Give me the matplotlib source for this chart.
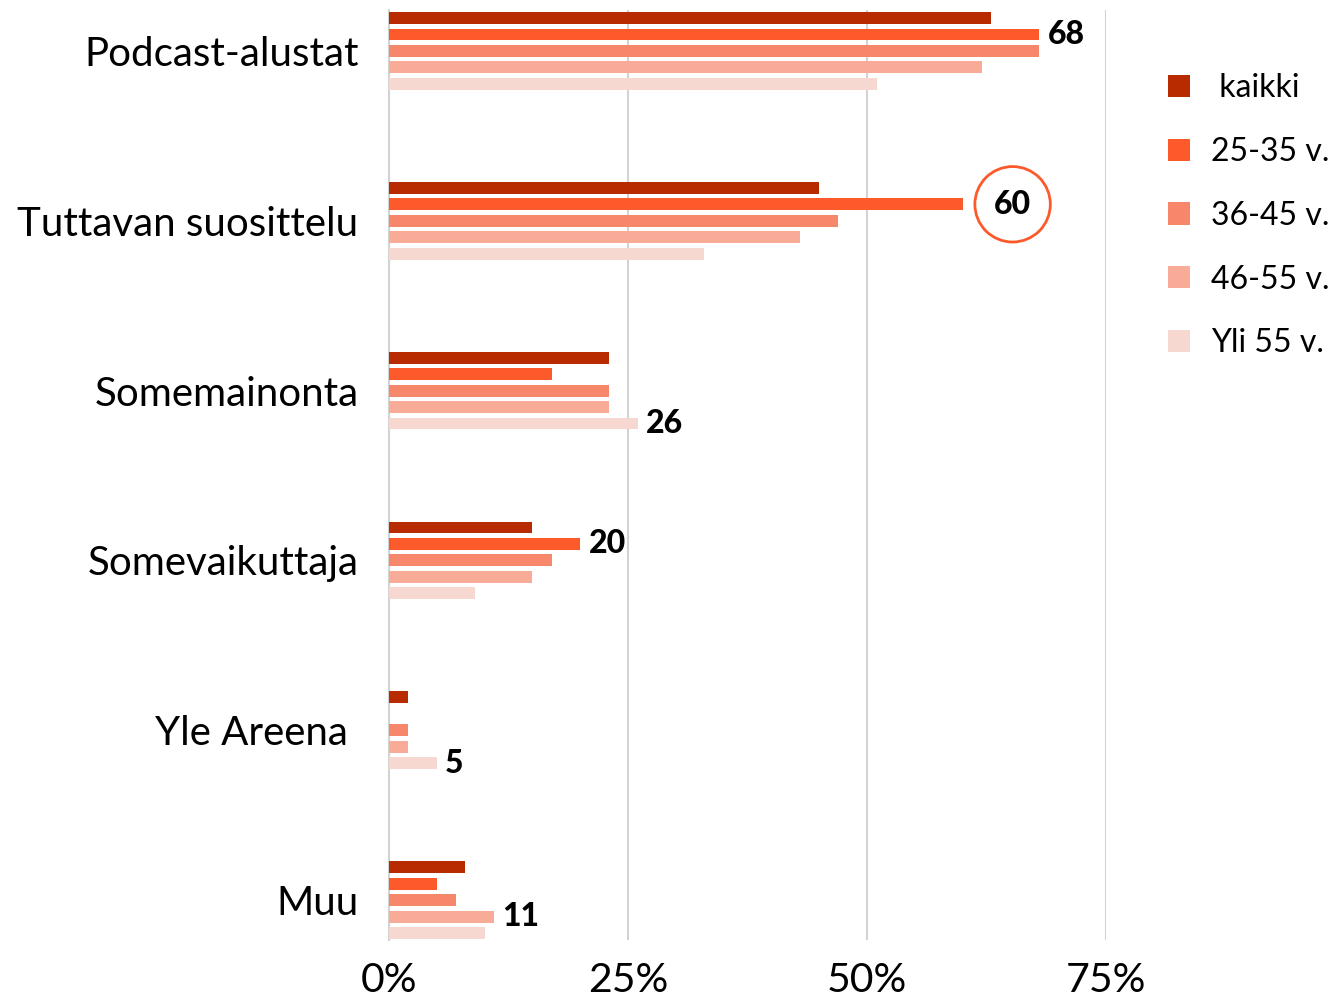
import matplotlib
matplotlib.use("Agg")
import matplotlib.pyplot as plt
from matplotlib.patches import Patch
import numpy as np

plt.rcParams['font.family'] = ['Lato', 'DejaVu Sans']

categories = ["Podcast-alustat", "Tuttavan suosittelu", "Somemainonta",
              "Somevaikuttaja", "Yle Areena ", "Muu"]
series_names = [" kaikki", "25-35 v.", "36-45 v.", "46-55 v.", "Yli 55 v."]
colors = ["#B82A00", "#FD5A2C", "#F6876A", "#F8AC98", "#F6D8D0"]

kaikki = [63, 45, 23, 15, 2, 8]
v25_35 = [68, 60, 17, 20, 0, 5]
v36_45 = [68, 47, 23, 17, 2, 7]
v46_55 = [62, 43, 23, 15, 2, 11]
yli55 = [51, 33, 26, 9, 5, 10]
series = [kaikki, v25_35, v36_45, v46_55, yli55]

# (category index, series index) for labelled bars
labels = [(0, 1), (2, 4), (3, 1), (4, 4), (5, 3)]
highlight = (1, 1)

xticks = [0, 25, 50, 75]
xticklabels = ["0%", "25%", "50%", "75%"]

fig = plt.figure(figsize=(13.3, 10), dpi=100)
ax = fig.add_axes([389/1330, 0.06, (1106-389)/1330, 0.93])

step = 0.097
height = 0.07
y = np.arange(len(categories))
for i, (vals, c) in enumerate(zip(series, colors)):
    ax.barh(y + (i - 2) * step, vals, height=height, color=c, label=series_names[i], zorder=3)

for (ci, si) in labels:
    val = series[si][ci]
    ax.annotate(str(val), (val, ci + (si - 2) * step), xytext=(6, 0),
                textcoords="offset points", va="center", ha="left",
                fontsize=23, fontweight="black", color="black")

ci, si = highlight
val = series[si][ci]
ax.annotate(str(val), (val, ci + (si - 2) * step), xytext=(36, 0),
            textcoords="offset points", va="center", ha="center",
            fontsize=23, fontweight="black", color="black",
            bbox=dict(boxstyle="circle,pad=0.6", fc="white", ec="#FD5A2C", lw=2))

ax.set_ylim(5.235, -0.241)
ax.set_xlim(0, 75)
ax.set_yticks(y)
ax.set_yticklabels(categories, fontsize=29)
ax.set_xticks(xticks)
ax.set_xticklabels(xticklabels, fontsize=29.5)
ax.tick_params(axis='y', length=0, pad=22)
ax.tick_params(axis='x', length=0, pad=16)
ax.xaxis.grid(True, color="#D3D3D3", lw=1.5, zorder=0)
ax.set_axisbelow(True)
for s in ["top", "right", "bottom"]:
    ax.spines[s].set_visible(False)
ax.spines["left"].set_color("#D3D3D3")
ax.spines["left"].set_linewidth(1.5)

handles = [Patch(facecolor=c, edgecolor="none") for c in colors]
fig.legend(handles, series_names, loc="upper left", bbox_to_anchor=(1152/1330, 0.943),
           frameon=False, fontsize=23, handlelength=0.69, handleheight=0.69,
           handletextpad=0.65, labelspacing=1.06, borderpad=0)

fig.savefig("out.png", dpi=100)
